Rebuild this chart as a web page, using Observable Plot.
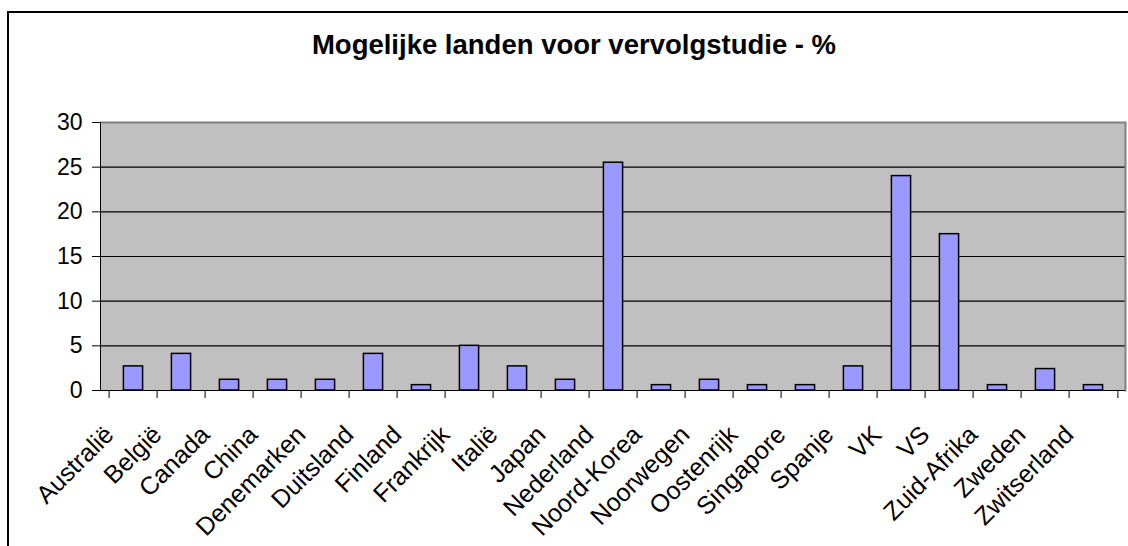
<!DOCTYPE html>
<html>
<head>
<meta charset="utf-8">
<script src="https://cdn.jsdelivr.net/npm/d3@7"></script>
<script src="https://cdn.jsdelivr.net/npm/@observablehq/plot@0.6"></script>
<style>
  html, body { margin: 0; padding: 0; background: #fff; }
  #wrap { position: relative; width: 1128px; height: 546px; overflow: hidden; font-family: "Liberation Sans", Arial, sans-serif; }
  #border { position: absolute; left: 7px; top: 11px; width: 1140px; height: 560px; border: 2px solid #000; box-sizing: border-box; }
  #title { position: absolute; left: 0; top: 29px; width: 1148px; text-align: center; font-size: 27.5px; font-weight: bold; color: #000; }
  #chart { position: absolute; left: 0; top: 0; }
</style>
</head>
<body>
<div id="wrap">
  <div id="border"></div>
  <div id="title">Mogelijke landen voor vervolgstudie - %</div>
  <div id="chart"></div>
</div>
<script>
const landen = ["Australië", "België", "Canada", "China", "Denemarken", "Duitsland", "Finland", "Frankrijk", "Italië", "Japan", "Nederland", "Noord-Korea", "Noorwegen", "Oostenrijk", "Singapore", "Spanje", "VK", "VS", "Zuid-Afrika", "Zweden", "Zwitserland"];
const percentages = [2.7, 4.1, 1.2, 1.2, 1.2, 4.1, 0.6, 5.0, 2.7, 1.2, 25.5, 0.6, 1.2, 0.6, 0.6, 2.7, 24.0, 17.5, 0.6, 2.4, 0.6];
const yTicks = [0, 5, 10, 15, 20, 25, 30];
const gridValues = [5, 10, 15, 20, 25];

const data = landen.map((land, i) => ({land, pct: percentages[i]}));

const W = 1128, H = 546;
const mL = 100, mR = 3, mT = 122, mB = 156;
const bw = (W - mL - mR) / landen.length;
const barW = 20;
const inset = (bw - barW) / 2;

const chart = Plot.plot({
  width: W,
  height: H,
  marginLeft: mL,
  marginRight: mR,
  marginTop: mT,
  marginBottom: mB,
  style: {fontFamily: '"Liberation Sans", Arial, sans-serif', fontSize: "23px", background: "transparent", color: "#000"},
  x: {domain: landen, padding: 0},
  y: {domain: [0, 30]},
  marks: [
    Plot.frame({fill: "#c0c0c0", stroke: null}),
    Plot.ruleY(gridValues, {stroke: "#000", strokeWidth: 1.2}),
    Plot.ruleY([30], {stroke: "#808080", strokeWidth: 2}),
    Plot.frame({anchor: "right", stroke: "#808080", strokeWidth: 2}),
    Plot.barY(data, {x: "land", y: "pct", fill: "#9999ff", stroke: "#000", strokeWidth: 1.5, insetLeft: inset, insetRight: inset}),
    Plot.frame({anchor: "left", stroke: "#000", strokeWidth: 1}),
    Plot.ruleY([0], {stroke: "#000", strokeWidth: 1}),
    Plot.axisY({ticks: yTicks, tickSize: 8, tickPadding: 10, fontSize: 23, label: null, stroke: "#000", fill: "#000"}),
    Plot.axisX({ticks: landen, tickSize: 8, tickFormat: () => "", dx: -bw / 2, label: null, stroke: "#000"}),
    Plot.axisX({ticks: [landen[landen.length - 1]], tickSize: 8, tickFormat: () => "", dx: bw / 2, label: null, stroke: "#000"}),
    Plot.axisX({ticks: landen, tickSize: 0, tickPadding: 40, tickRotate: -45, fontSize: 25, dx: -24, label: null, fill: "#000"})
  ]
});
document.getElementById("chart").appendChild(chart);
</script>
</body>
</html>
